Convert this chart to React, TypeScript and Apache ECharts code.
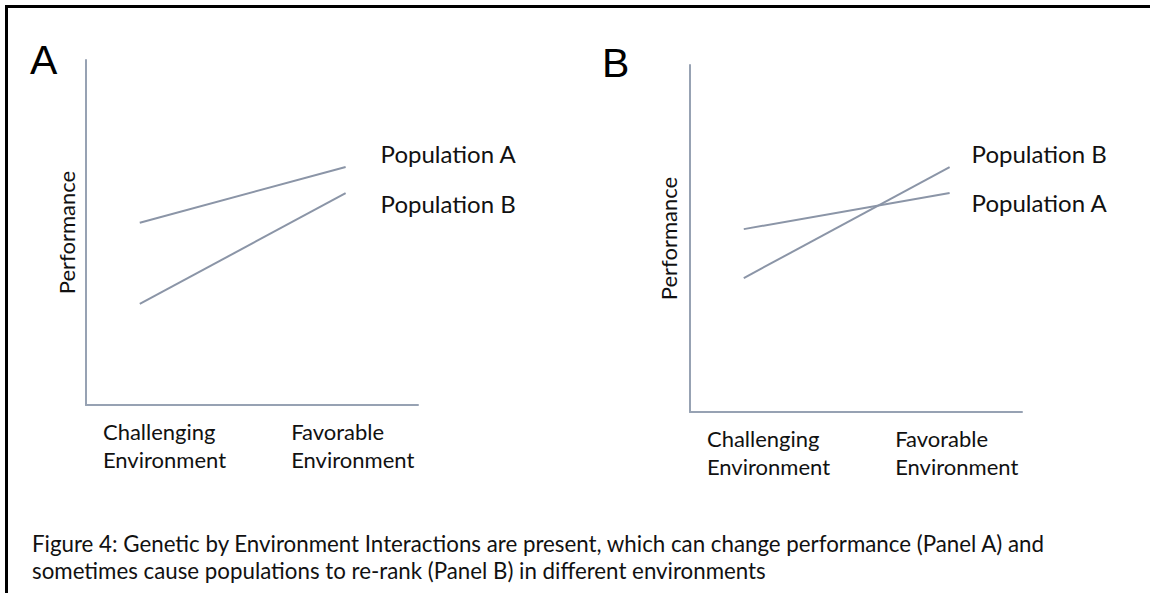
import React, { useEffect, useRef } from "react";
import * as echarts from "echarts";

const envLabels = ["Challenging\nEnvironment", "Favorable\nEnvironment"];
const envLabelPos = [5.1, 61.8];
const envX = [16.2, 78.2];
const panelAPopA = [52.8, 69.0];
const panelAPopB = [29.3, 61.4];
const panelBPopA = [52.7, 63.1];
const panelBPopB = [38.6, 70.6];
const panelLetters = ["A", "B"];
const yName = "Performance";
const captionLines = [
  "Figure 4: Genetic by Environment Interactions are present, which can change performance (Panel A) and",
  "sometimes cause populations to re-rank (Panel B) in different environments",
];

const FONT = "Lato";
const AXIS = "#97a2b3";
const LINE = "#8b95a7";

function pts(ys: number[]) {
  return ys.map((y, i) => [envX[i], y]);
}

export default function App() {
  const ref = useRef<HTMLDivElement>(null);
  useEffect(() => {
    document.body.style.margin = "0";
    const chart = echarts.init(ref.current!, null, { renderer: "svg" });
    const xAxisFor = (gi: number) => ({
      type: "value",
      gridIndex: gi,
      min: 0,
      max: 100,
      axisLine: { show: true, lineStyle: { color: AXIS, width: 2 } },
      axisTick: { show: false },
      splitLine: { show: false },
      axisLabel: {
        show: true,
        customValues: envLabelPos,
        formatter: (v: number) => (v < 30 ? envLabels[0] : envLabels[1]),
        align: "left",
        color: "#111",
        fontFamily: FONT,
        fontSize: 22,
        lineHeight: 28,
        margin: 12,
      },
    });
    const yAxisFor = (gi: number, gap: number) => ({
      type: "value",
      gridIndex: gi,
      min: 0,
      max: 100,
      axisLine: { show: true, lineStyle: { color: AXIS, width: 2 } },
      axisTick: { show: false },
      splitLine: { show: false },
      axisLabel: { show: false },
      name: yName,
      nameLocation: "middle",
      nameRotate: 90,
      nameGap: gap,
      nameTextStyle: { color: "#111", fontFamily: FONT, fontSize: 22 },
    });
    const series = (name: string, gi: number, ys: number[], offset: number[]) => ({
      type: "line",
      name,
      xAxisIndex: gi,
      yAxisIndex: gi,
      data: pts(ys),
      symbol: "none",
      silent: true,
      lineStyle: { color: LINE, width: 2 },
      endLabel: {
        show: true,
        formatter: "{a}",
        distance: 0,
        offset,
        color: "#111",
        fontFamily: FONT,
        fontSize: 24,
      },
    });
    chart.setOption({
      animation: false,
      backgroundColor: "#fff",
      grid: [
        { left: 86, top: 60, width: 332, height: 345 },
        { left: 690, top: 65, width: 332, height: 347 },
      ],
      xAxis: [xAxisFor(0), xAxisFor(1)],
      yAxis: [yAxisFor(0, 9), yAxisFor(1, 11)],
      series: [
        series("Population A", 0, panelAPopA, [35, -13.5]),
        series("Population B", 0, panelAPopB, [35, 10]),
        series("Population A", 1, panelBPopA, [22, 9.5]),
        series("Population B", 1, panelBPopB, [22, -13.5]),
      ],
      graphic: [
        { type: "line", shape: { x1: 5, y1: 6.5, x2: 1150, y2: 6.5 }, style: { stroke: "#000", lineWidth: 3 } },
        { type: "line", shape: { x1: 6.5, y1: 5, x2: 6.5, y2: 593 }, style: { stroke: "#000", lineWidth: 3 } },
        {
          type: "text",
          x: 30,
          y: 60,
          style: { text: panelLetters[0], fill: "#000", font: '41px "Liberation Sans"', verticalAlign: "middle" },
        },
        {
          type: "text",
          x: 602,
          y: 62.5,
          style: { text: panelLetters[1], fill: "#000", font: '41px "Liberation Sans"', verticalAlign: "middle" },
        },
        {
          type: "text",
          x: 32,
          y: 556.5,
          style: {
            text: captionLines.join("\n"),
            fill: "#111",
            font: `22.3px ${FONT}`,
            lineHeight: 27,
            verticalAlign: "middle",
          },
        },
      ],
    });
    return () => chart.dispose();
  }, []);
  return <div ref={ref} style={{ width: 1150, height: 593 }} />;
}
